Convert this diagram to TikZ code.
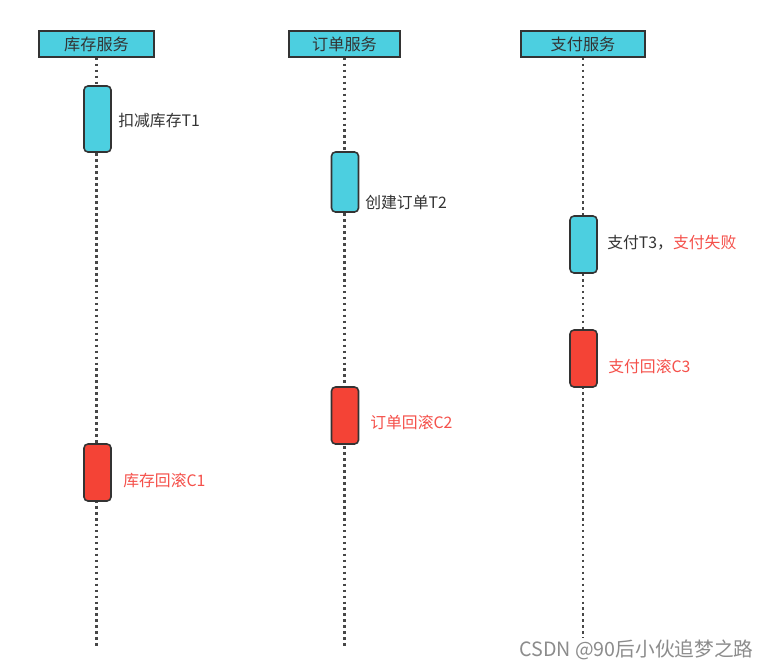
\documentclass[tikz,border=0pt]{standalone}
\usepackage{fontspec}
\newfontfamily\cjk{Noto Sans CJK SC}
\usetikzlibrary{positioning,backgrounds}
\definecolor{svccyan}{RGB}{76,207,224}
\definecolor{rbred}{RGB}{244,67,54}
\definecolor{rbtext}{RGB}{245,80,74}
\definecolor{inkgray}{RGB}{51,51,51}
\definecolor{markgray}{RGB}{140,140,140}
\tikzset{
  head/.style={draw=inkgray, fill=svccyan, line width=0.9pt, minimum height=5.2mm, inner sep=0pt, font=\cjk\fontsize{9.2}{11}\selectfont, text=inkgray},
  act/.style={draw=inkgray, rounded corners=0.8mm, line width=0.9pt, fill=svccyan, minimum width=5.4mm, inner sep=0pt},
  rb/.style={act, fill=rbred},
  lifeline/.style={inkgray!90, line width=1.5pt, dash pattern=on 1.5pt off 1.9pt},
  note/.style={anchor=west, inner sep=0pt, font=\cjk\fontsize{9}{11}\selectfont, text=inkgray},
  rbnote/.style={note, text=rbtext}
}
\begin{document}
\begin{tikzpicture}[x=0.2mm, y=-0.2mm]
  \useasboundingbox (0,0) rectangle (769,669);

  % service heads
  \node[head, minimum width=23mm] (stock) at (96.5,44) {库存服务};
  \node[head, minimum width=22.2mm] (order) at (344.5,44) {订单服务};
  \node[head, minimum width=24.8mm] (pay) at (583,44) {支付服务};
  \coordinate (stock-end) at (96.5,646);
  \coordinate (order-end) at (344.5,648);
  \coordinate (pay-end) at (583,638);

  % try steps
  \node[act, minimum height=13.2mm] (t1) at (97.5,119) {};
  \node[act, minimum height=12mm] (t2) at (345,182) {};
  \node[act, minimum height=11.4mm] (t3) at (583.5,244.5) {};

  % rollback steps
  \node[rb, minimum height=11.4mm] (c3) at (583.5,358.5) {};
  \node[rb, minimum height=11.4mm] (c2) at (345,415.5) {};
  \node[rb, minimum height=11.4mm] (c1) at (97.5,472.5) {};

  \node[note] (t1-text) at (118,121) {扣减库存T1};
  \node[note] (t2-text) at (365,202) {创建订单T2};
  \node[note] (t3-text) at (607,243) {支付T3，\textcolor{rbtext}{支付失败}};
  \node[rbnote] (c3-text) at (608,366) {支付回滚C3};
  \node[rbnote] (c2-text) at (370,422) {订单回滚C2};
  \node[rbnote] (c1-text) at (123,480) {库存回滚C1};

  \node[anchor=west, inner sep=0pt, font=\cjk\fontsize{11.2}{13}\selectfont, text=markgray] (mark) at (519,650) {CSDN @90后小伙追梦之路};

  \begin{scope}[on background layer]
    \fill[white] (0,0) rectangle (769,669);
    \draw[lifeline] (stock) -- (stock-end);
    \draw[lifeline] (order) -- (order-end);
    \draw[lifeline] (pay) -- (pay-end);
  \end{scope}
\end{tikzpicture}
\end{document}
